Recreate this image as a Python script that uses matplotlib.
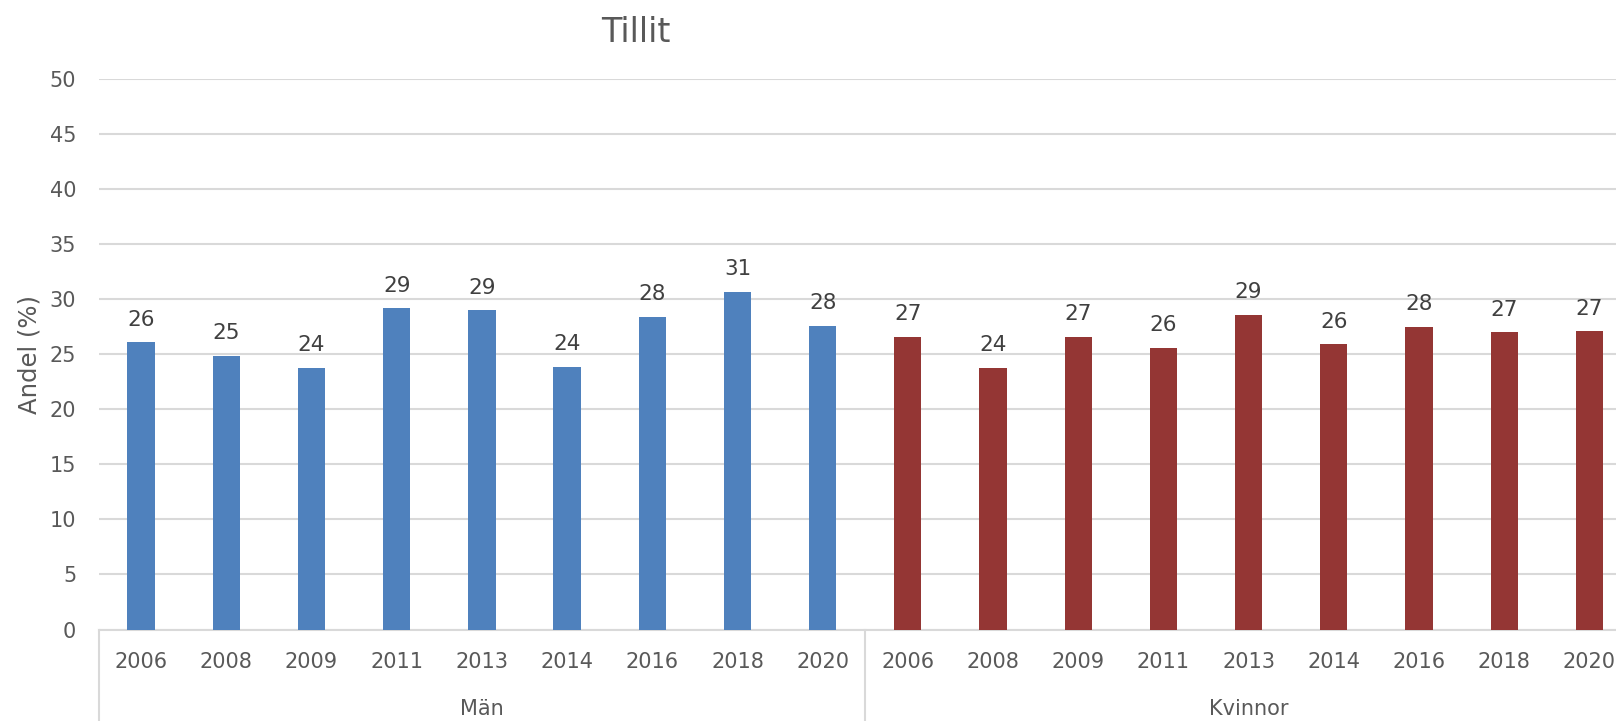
import numpy as np
import matplotlib.pyplot as plt

# data
grupper = ['Män', 'Kvinnor']
ar = ['2006', '2008', '2009', '2011', '2013', '2014', '2016', '2018', '2020']
man = [26.1, 24.9, 23.8, 29.2, 29.0, 23.9, 28.4, 30.7, 27.6]
kvinnor = [26.6, 23.8, 26.6, 25.6, 28.6, 25.9, 27.5, 27.0, 27.1]
farger = ['#4F81BD', '#943634']

textfarg = '#595959'
gridfarg = '#D9D9D9'

plt.rcParams['font.family'] = 'DejaVu Sans'

fig = plt.figure(figsize=(16.16, 7.21), dpi=100)
# axeln fortsätter utanför bilden till höger (som i originalet)
ax = fig.add_axes([98.5 / 1616, (721 - 629.5) / 721, (1632 - 98.5) / 1616, 550.2 / 721])

n = len(ar)
x_man = np.arange(n)
x_kv = np.arange(n) + n
bars1 = ax.bar(x_man, man, width=0.32, color=farger[0], zorder=3)
bars2 = ax.bar(x_kv, kvinnor, width=0.32, color=farger[1], zorder=3)

for bars in (bars1, bars2):
    ax.bar_label(bars, fmt='%.0f', padding=9, fontsize=15.5, color='#404040')

ax.set_xlim(-0.5, 2 * n - 0.5)
ax.set_ylim(0, 50)
ax.set_yticks(np.arange(0, 51, 5))
ax.yaxis.grid(True, color=gridfarg, linewidth=1.5, zorder=0)
ax.set_axisbelow(True)

ax.set_xticks(np.concatenate([x_man, x_kv]))
ax.set_xticklabels(ar + ar)
ax.tick_params(axis='x', length=0, pad=16, labelsize=15, labelcolor=textfarg)
ax.tick_params(axis='y', length=0, pad=16, labelsize=15, labelcolor=textfarg)

for s in ['top', 'right', 'left']:
    ax.spines[s].set_visible(False)
ax.spines['bottom'].set_color(gridfarg)
ax.spines['bottom'].set_linewidth(1.5)

# kategoriaxel med grupper
trans = ax.get_xaxis_transform()
for xs in [-0.5, n - 0.5]:
    ax.plot([xs, xs], [0, -0.3], transform=trans, color=gridfarg, linewidth=1.5, clip_on=False)
for i, g in enumerate(grupper):
    ax.text(i * n + (n - 1) / 2, -0.1445, g, transform=trans, ha='center', va='center',
            fontsize=15, color=textfarg)

ax.set_ylabel('Andel (%)', fontsize=17.5, color=textfarg, labelpad=6)
fig.text(636 / 1616, 1 - 32 / 721, 'Tillit', ha='center', va='center', fontsize=24, color=textfarg)

fig.savefig('out.png', dpi=100)
